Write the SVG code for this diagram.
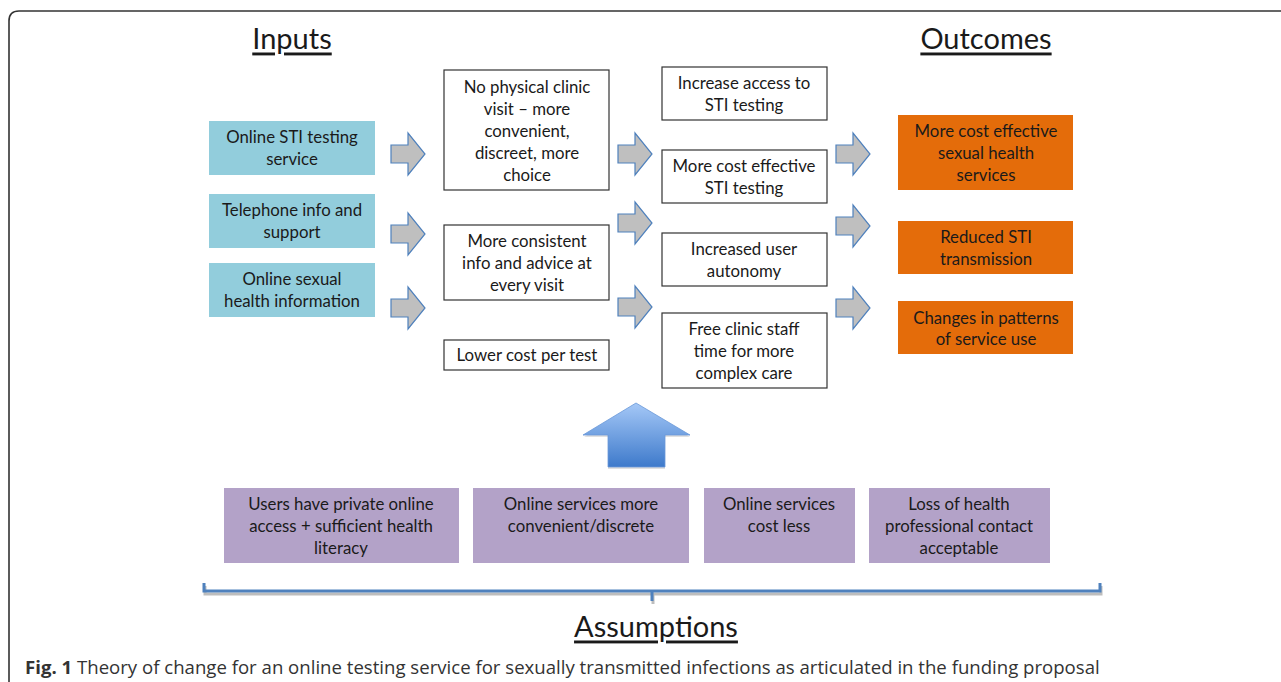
<svg xmlns="http://www.w3.org/2000/svg" width="1281" height="682" viewBox="0 0 1281 682">
<defs>
<linearGradient id="upg" x1="0" y1="0" x2="0" y2="1">
<stop offset="0" stop-color="#A5C8F7"/>
<stop offset="1" stop-color="#3E7ACB"/>
</linearGradient>
<path id="arr" d="M0 -9 H17 V-21 L34 0 L17 21 V9 H0 Z" fill="#BFBFBF" stroke="#4F81BD" stroke-width="1.2"/>
</defs>
<style>
text{font-family:Lato,"Liberation Sans",sans-serif;font-size:16.8px;fill:#1a1a1a;text-anchor:middle;dominant-baseline:central;transform:translateY(-1px)}
.h{font-size:29px;text-decoration:underline}
.in{fill:#92CDDC}
.mid{fill:#fff;stroke:#333;stroke-width:1.2}
.out{fill:#E46C0A}
.as{fill:#B3A2C8}
.cap{font-family:"Open Sans","Liberation Sans",sans-serif;font-size:18.6px;text-anchor:start;fill:#333;transform:none}
</style>
<rect width="1281" height="682" fill="#fff"/>
<path d="M9 682 V21 Q9 11 19 11 H1281" fill="none" stroke="#333" stroke-width="1.6"/>

<text class="h" x="292" y="38">Inputs</text>
<text class="h" x="986" y="38">Outcomes</text>
<text class="h" x="656" y="626">Assumptions</text>

<g id="in1"><rect class="in" x="209" y="121" width="166" height="54"/><text x="292" y="137">Online STI testing</text><text x="292" y="159">service</text></g>
<g id="in2"><rect class="in" x="209" y="194" width="166" height="54"/><text x="292" y="210">Telephone info and</text><text x="292" y="232">support</text></g>
<g id="in3"><rect class="in" x="209" y="263" width="166" height="54"/><text x="292" y="279">Online sexual</text><text x="292" y="301">health information</text></g>

<g id="m1"><rect class="mid" x="444" y="70" width="165" height="120"/><text x="527" y="87">No physical clinic</text><text x="527" y="109">visit – more</text><text x="527" y="131">convenient,</text><text x="527" y="153">discreet, more</text><text x="527" y="175">choice</text></g>
<g id="m2"><rect class="mid" x="444" y="225" width="165" height="75"/><text x="527" y="241">More consistent</text><text x="527" y="263">info and advice at</text><text x="527" y="285">every visit</text></g>
<g id="m3"><rect class="mid" x="444" y="340" width="165" height="30"/><text x="527" y="355">Lower cost per test</text></g>

<g id="r1"><rect class="mid" x="662" y="67" width="165" height="53"/><text x="744" y="83">Increase access to</text><text x="744" y="105">STI testing</text></g>
<g id="r2"><rect class="mid" x="662" y="150" width="165" height="53"/><text x="744" y="166">More cost effective</text><text x="744" y="188">STI testing</text></g>
<g id="r3"><rect class="mid" x="662" y="233" width="165" height="53"/><text x="744" y="249">Increased user</text><text x="744" y="271">autonomy</text></g>
<g id="r4"><rect class="mid" x="662" y="313" width="165" height="75"/><text x="744" y="329">Free clinic staff</text><text x="744" y="351">time for more</text><text x="744" y="373">complex care</text></g>

<g id="o1"><rect class="out" x="898" y="115" width="175" height="75"/><text x="986" y="131">More cost effective</text><text x="986" y="153">sexual health</text><text x="986" y="175">services</text></g>
<g id="o2"><rect class="out" x="898" y="221" width="175" height="53"/><text x="986" y="237">Reduced STI</text><text x="986" y="259">transmission</text></g>
<g id="o3"><rect class="out" x="898" y="301" width="175" height="53"/><text x="986" y="318">Changes in patterns</text><text x="986" y="339">of service use</text></g>

<g id="a1"><rect class="as" x="224" y="488" width="235" height="75"/><text x="341" y="504">Users have private online</text><text x="341" y="526">access + sufficient health</text><text x="341" y="548">literacy</text></g>
<g id="a2"><rect class="as" x="473" y="488" width="216" height="75"/><text x="581" y="504">Online services more</text><text x="581" y="526">convenient/discrete</text></g>
<g id="a3"><rect class="as" x="704" y="488" width="151" height="75"/><text x="779" y="504">Online services</text><text x="779" y="526">cost less</text></g>
<g id="a4"><rect class="as" x="869" y="488" width="181" height="75"/><text x="959" y="504">Loss of health</text><text x="959" y="526">professional contact</text><text x="959" y="548">acceptable</text></g>

<g id="connectors">
<use href="#arr" x="391" y="154"/>
<use href="#arr" x="391" y="234"/>
<use href="#arr" x="391" y="308"/>
<use href="#arr" x="618" y="154"/>
<use href="#arr" x="618" y="223"/>
<use href="#arr" x="618" y="307"/>
<use href="#arr" x="836" y="154"/>
<use href="#arr" x="836" y="226"/>
<use href="#arr" x="836" y="308"/>
<path d="M584 437 L637 405 L690 437 H665 V469 H608 V437 Z" fill="#000" opacity="0.12"/>
<path d="M583 435 L636 403 L690 435 H665 V467 H608 V435 Z" fill="url(#upg)" stroke="#6A98D8" stroke-width="0.8"/>
<path d="M205 586 V594 H1101 V586 M653 594 V604" fill="none" stroke="#BDBDBD" stroke-width="3"/>
<path d="M204 583 V591 H1100 V583 M652 591 V601" fill="none" stroke="#4F81BD" stroke-width="3"/>
</g>

<text class="cap" x="25" y="666"><tspan font-weight="bold">Fig. 1</tspan> Theory of change for an online testing service for sexually transmitted infections as articulated in the funding proposal</text>
</svg>
